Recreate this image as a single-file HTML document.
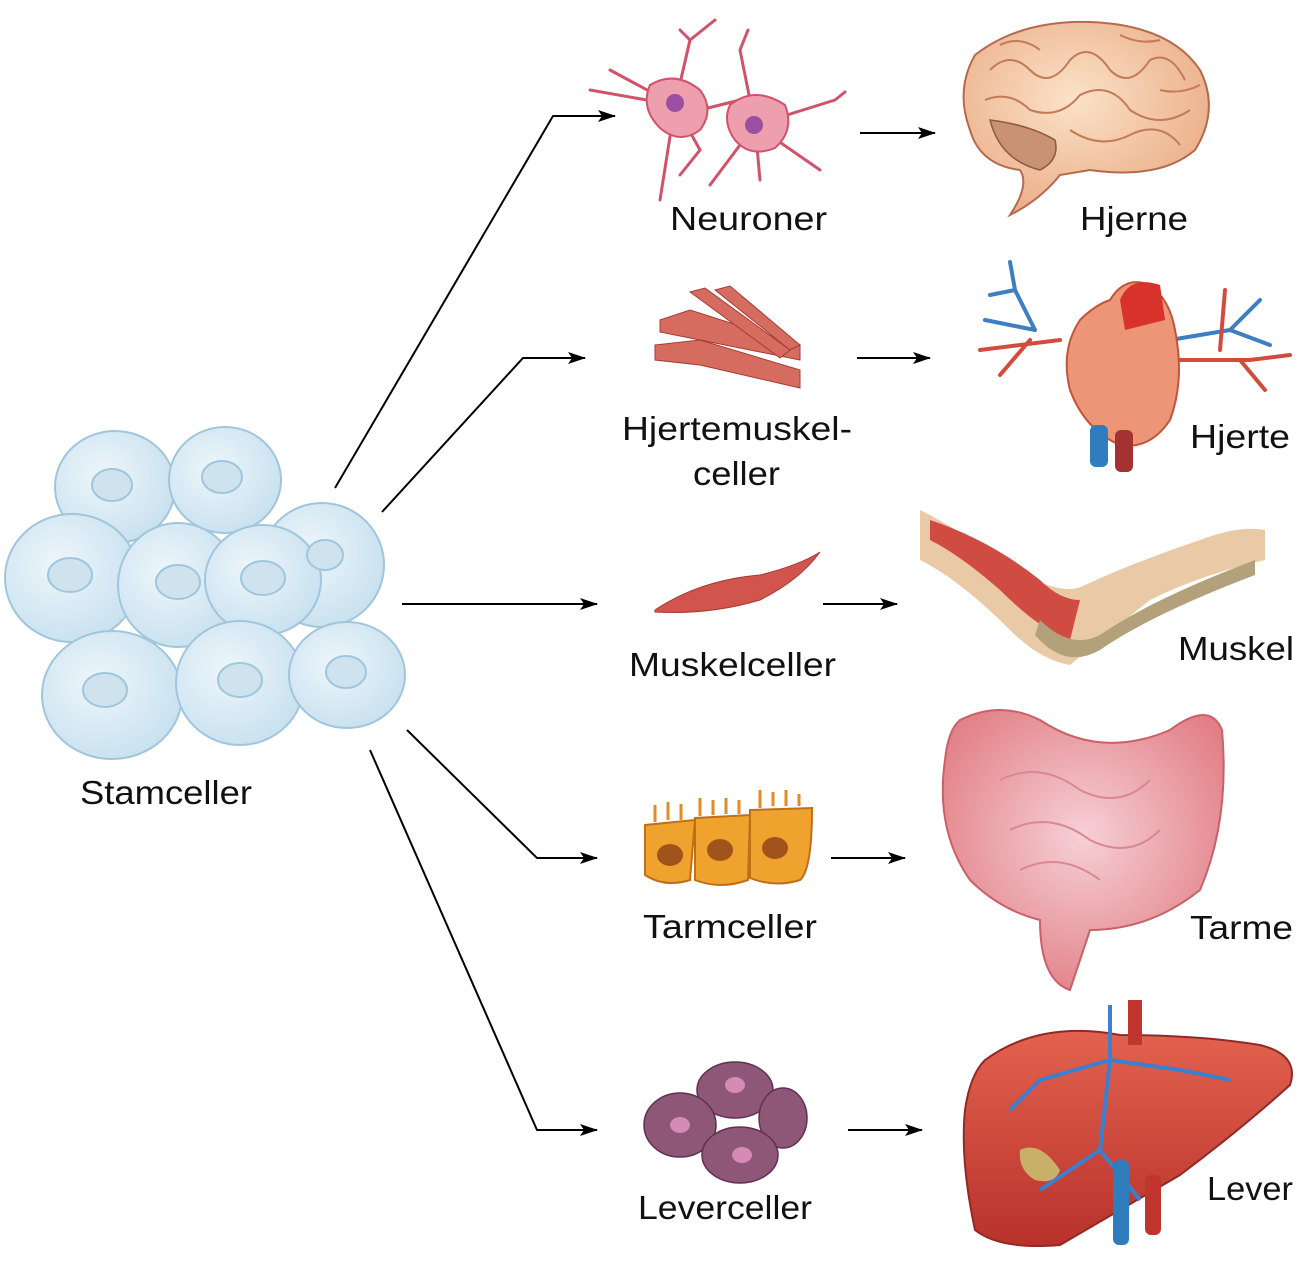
<!DOCTYPE html>
<html><head><meta charset="utf-8"><style>
html,body{margin:0;padding:0;background:#fff;}
svg{display:block}
text{font-family:"Liberation Sans",sans-serif;font-size:33px;fill:#111}
</style></head><body>
<svg width="1300" height="1267" viewBox="0 0 1300 1267" xmlns="http://www.w3.org/2000/svg">
<defs>
<marker id="ah" markerWidth="18" markerHeight="12" refX="17" refY="6" orient="auto" markerUnits="userSpaceOnUse">
<path d="M0,0 L18,6 L0,12 L4,6 Z" fill="#000"/></marker>
<radialGradient id="cell" cx="40%" cy="40%" r="70%"><stop offset="0" stop-color="#eef6fb"/><stop offset="1" stop-color="#c5dfee"/></radialGradient>
<radialGradient id="brain" cx="45%" cy="40%" r="70%"><stop offset="0" stop-color="#fbe2c8"/><stop offset="1" stop-color="#e9a77f"/></radialGradient>
<radialGradient id="gut" cx="50%" cy="45%" r="60%"><stop offset="0" stop-color="#f6d0d6"/><stop offset="1" stop-color="#e27f86"/></radialGradient>
<linearGradient id="liv" x1="0" y1="0" x2="0" y2="1"><stop offset="0" stop-color="#e2624f"/><stop offset="1" stop-color="#b8322b"/></linearGradient>
</defs>

<g stroke="#9fc6dc" stroke-width="2" fill="url(#cell)">
<ellipse cx="115" cy="487" rx="60" ry="56"/>
<ellipse cx="225" cy="480" rx="56" ry="53"/>
<ellipse cx="322" cy="565" rx="62" ry="62"/>
<ellipse cx="72" cy="578" rx="67" ry="64"/>
<ellipse cx="178" cy="585" rx="60" ry="62"/>
<ellipse cx="263" cy="580" rx="58" ry="55"/>
<ellipse cx="112" cy="695" rx="70" ry="64"/>
<ellipse cx="240" cy="683" rx="64" ry="62"/>
<ellipse cx="347" cy="675" rx="58" ry="53"/>
</g>
<g fill="#cfe3ef" stroke="#9fc6dc" stroke-width="2">
<ellipse cx="112" cy="485" rx="20" ry="16"/>
<ellipse cx="222" cy="477" rx="20" ry="16"/>
<ellipse cx="325" cy="555" rx="18" ry="15"/>
<ellipse cx="70" cy="575" rx="22" ry="17"/>
<ellipse cx="178" cy="582" rx="22" ry="17"/>
<ellipse cx="263" cy="578" rx="22" ry="17"/>
<ellipse cx="105" cy="690" rx="22" ry="17"/>
<ellipse cx="240" cy="680" rx="22" ry="17"/>
<ellipse cx="346" cy="672" rx="20" ry="16"/>
</g>

<g stroke="#000" stroke-width="2" fill="none">
<polyline points="335,488 553,116 615,116" marker-end="url(#ah)"/>
<polyline points="382,512 523,358 585,358" marker-end="url(#ah)"/>
<polyline points="402,604 597,604" marker-end="url(#ah)"/>
<polyline points="407,730 537,858 597,858" marker-end="url(#ah)"/>
<polyline points="370,750 537,1130 597,1130" marker-end="url(#ah)"/>
<line x1="860" y1="133" x2="935" y2="133" marker-end="url(#ah)"/>
<line x1="857" y1="358" x2="930" y2="358" marker-end="url(#ah)"/>
<line x1="823" y1="604" x2="897" y2="604" marker-end="url(#ah)"/>
<line x1="831" y1="858" x2="905" y2="858" marker-end="url(#ah)"/>
<line x1="848" y1="1130" x2="922" y2="1130" marker-end="url(#ah)"/>
</g>

<g stroke="#d1526a" stroke-width="3" fill="none" stroke-linecap="round">
<path d="M675,105 L610,70 M675,105 L590,90 M675,105 L690,40 M690,40 L715,20 M690,40 L680,30 M675,105 L660,200 M675,105 L700,150 L680,175 M755,125 L740,50 M740,50 L748,30 M755,125 L835,100 M835,100 L845,92 M755,125 L820,170 M755,125 L710,185 M755,125 L760,180 M740,100 L700,110"/>
</g>
<g fill="#ee9fae" stroke="#d1526a" stroke-width="2">
<path d="M650,85 Q675,70 700,90 Q715,110 700,130 Q680,145 660,128 Q640,108 650,85Z"/>
<path d="M730,105 Q755,85 785,105 Q795,130 775,148 Q750,158 735,140 Q722,122 730,105Z"/>
</g>
<circle cx="675" cy="103" r="9" fill="#9a4fa0"/>
<circle cx="754" cy="125" r="9" fill="#9a4fa0"/>

<path d="M975,55 Q1020,20 1090,22 Q1170,25 1200,70 Q1220,110 1195,150 Q1160,180 1090,170 L1060,175 Q1040,200 1010,215 Q1030,185 1020,170 Q980,165 970,130 Q955,90 975,55Z" fill="url(#brain)" stroke="#b56a4d" stroke-width="2"/>
<path d="M990,120 Q1000,160 1040,170 Q1060,160 1055,140 Q1030,125 990,120Z" fill="#c99272" stroke="#8d5a40" stroke-width="1.5"/>
<g stroke="#c37a58" stroke-width="2" fill="none">
<path d="M990,70 Q1010,50 1030,70 Q1050,90 1070,60 Q1090,40 1110,70 Q1130,90 1150,60 Q1170,50 1185,80"/>
<path d="M985,100 Q1010,90 1030,110 Q1060,120 1080,95 Q1110,80 1130,110 Q1160,130 1190,110"/>
<path d="M1070,130 Q1100,150 1130,135 Q1160,120 1180,145"/>
<path d="M1000,45 Q1020,35 1040,50 M1120,35 Q1140,45 1160,40 M1160,90 Q1180,95 1200,85"/>
</g>

<g stroke="#a63c36" stroke-width="1" fill="#d66b5f">
<path d="M660,320 L690,310 L800,345 L800,360 L700,340 L660,332Z"/>
<path d="M655,345 L700,340 L800,370 L800,388 L700,365 L655,360Z"/>
<path d="M690,292 L705,288 L790,350 L780,358Z"/>
<path d="M715,290 L730,286 L800,345 L790,350Z"/>
</g>

<g fill="none" stroke-width="4" stroke-linecap="round">
<path d="M1035,330 L1015,290 L1010,262 M1015,290 L990,295 M1035,330 L985,320" stroke="#3d7fc2"/>
<path d="M1170,340 L1230,330 L1260,300 M1230,330 L1270,345" stroke="#3d7fc2"/>
<path d="M1060,340 L980,350 M1030,340 L1000,375 M1180,360 L1250,360 L1290,355 M1240,360 L1265,390 M1220,350 L1225,290" stroke="#d24b3c"/>
</g>
<path d="M1110,300 Q1125,275 1150,285 Q1170,300 1175,330 Q1185,380 1170,420 Q1150,450 1120,445 Q1085,430 1070,390 Q1060,350 1080,320 Q1095,305 1110,300Z" fill="#ec9577" stroke="#c1543a" stroke-width="2"/>
<path d="M1120,300 Q1130,275 1160,285 L1165,320 L1125,330Z" fill="#d8322a"/>
<rect x="1090" y="425" width="18" height="42" rx="6" fill="#2f7dbd"/>
<rect x="1115" y="430" width="18" height="42" rx="6" fill="#a33231"/>

<path d="M655,610 Q700,580 760,575 Q800,565 820,552 Q800,580 760,600 Q710,615 655,612Z" fill="#d1554c" stroke="#a33a35" stroke-width="1"/>

<path d="M920,510 Q960,530 1000,560 Q1060,600 1085,585 Q1140,560 1200,540 Q1240,525 1265,530 L1265,560 Q1200,575 1150,600 Q1100,640 1070,665 Q1040,660 1010,630 Q960,580 920,560Z" fill="#e9c9a6"/>
<path d="M930,520 Q990,540 1040,580 Q1060,600 1080,600 L1070,640 Q1040,630 1000,590 Q960,555 930,540Z" fill="#d04c43"/>
<path d="M1040,620 Q1070,650 1100,635 Q1150,600 1255,560 L1255,575 Q1150,615 1100,650 Q1065,670 1035,635Z" fill="#b2a17a"/>

<g fill="#f0a22e" stroke="#c06e17" stroke-width="2">
<path d="M645,825 L695,820 L690,880 Q665,888 645,875Z"/>
<path d="M695,818 L750,815 L748,880 Q720,890 695,880Z"/>
<path d="M750,810 L812,808 Q812,870 800,880 Q775,888 750,878Z"/>
</g>
<g fill="#a0531b"><ellipse cx="670" cy="855" rx="13" ry="11"/><ellipse cx="720" cy="850" rx="13" ry="11"/><ellipse cx="775" cy="848" rx="13" ry="11"/></g>
<g stroke="#e38b25" stroke-width="3"><path d="M655,822 V805 M668,820 V802 M681,820 V804 M700,816 V798 M713,815 V800 M726,814 V798 M739,814 V800 M760,808 V790 M773,806 V792 M786,806 V790 M799,806 V794"/></g>

<path d="M960,720 Q1000,700 1040,720 Q1100,760 1170,730 Q1210,700 1222,730 Q1230,820 1200,890 Q1150,930 1090,930 Q1080,960 1070,990 Q1040,980 1040,920 Q1000,910 970,880 Q935,830 945,760 Q948,730 960,720Z" fill="url(#gut)" stroke="#c9606a" stroke-width="2"/>
<g stroke="#d98892" stroke-width="2" fill="none">
<path d="M1000,780 Q1040,760 1080,790 Q1120,810 1150,780 M1010,830 Q1050,810 1090,840 Q1130,860 1160,830 M1020,870 Q1060,850 1100,880"/>
</g>

<g fill="#8e5677" stroke="#5f3150" stroke-width="1.5">
<ellipse cx="735" cy="1090" rx="38" ry="28"/>
<ellipse cx="680" cy="1125" rx="36" ry="32"/>
<ellipse cx="783" cy="1118" rx="24" ry="30"/>
<ellipse cx="740" cy="1155" rx="38" ry="28"/>
</g>
<g fill="#d58bb5"><ellipse cx="735" cy="1085" rx="10" ry="8"/><ellipse cx="680" cy="1125" rx="10" ry="8"/><ellipse cx="742" cy="1155" rx="10" ry="8"/></g>

<path d="M985,1060 Q1040,1020 1120,1035 Q1200,1035 1260,1045 Q1300,1055 1290,1085 Q1240,1130 1180,1175 Q1120,1210 1060,1245 Q1000,1250 975,1230 Q960,1160 965,1110 Q970,1075 985,1060Z" fill="url(#liv)" stroke="#8f2a26" stroke-width="2"/>
<g stroke="#3b7fcf" stroke-width="4" fill="none">
<path d="M1110,1005 L1110,1060 L1040,1080 L1010,1110 M1110,1060 L1180,1070 L1230,1080 M1110,1060 L1100,1150 L1040,1190 M1100,1150 L1140,1200"/>
</g>
<rect x="1128" y="1000" width="14" height="45" fill="#c0352e"/>
<rect x="1113" y="1160" width="16" height="85" rx="6" fill="#2f7dbd"/>
<rect x="1145" y="1175" width="16" height="60" rx="6" fill="#c0352e"/>
<path d="M1020,1150 Q1040,1140 1060,1170 Q1055,1185 1035,1180 Q1018,1170 1020,1150Z" fill="#c9b069"/>

<text x="80" y="804" textLength="172" lengthAdjust="spacingAndGlyphs">Stamceller</text>
<text x="670" y="230" textLength="157" lengthAdjust="spacingAndGlyphs">Neuroner</text>
<text x="1080" y="230" textLength="108" lengthAdjust="spacingAndGlyphs">Hjerne</text>
<text x="622" y="440" textLength="230" lengthAdjust="spacingAndGlyphs">Hjertemuskel-</text>
<text x="693" y="485" textLength="87" lengthAdjust="spacingAndGlyphs">celler</text>
<text x="1190" y="448" textLength="100" lengthAdjust="spacingAndGlyphs">Hjerte</text>
<text x="629" y="676" textLength="207" lengthAdjust="spacingAndGlyphs">Muskelceller</text>
<text x="1178" y="660" textLength="116" lengthAdjust="spacingAndGlyphs">Muskel</text>
<text x="643" y="938" textLength="174" lengthAdjust="spacingAndGlyphs">Tarmceller</text>
<text x="1190" y="939" textLength="103" lengthAdjust="spacingAndGlyphs">Tarme</text>
<text x="638" y="1219" textLength="174" lengthAdjust="spacingAndGlyphs">Leverceller</text>
<text x="1207" y="1200" textLength="86" lengthAdjust="spacingAndGlyphs">Lever</text>
</svg>
</body></html>
